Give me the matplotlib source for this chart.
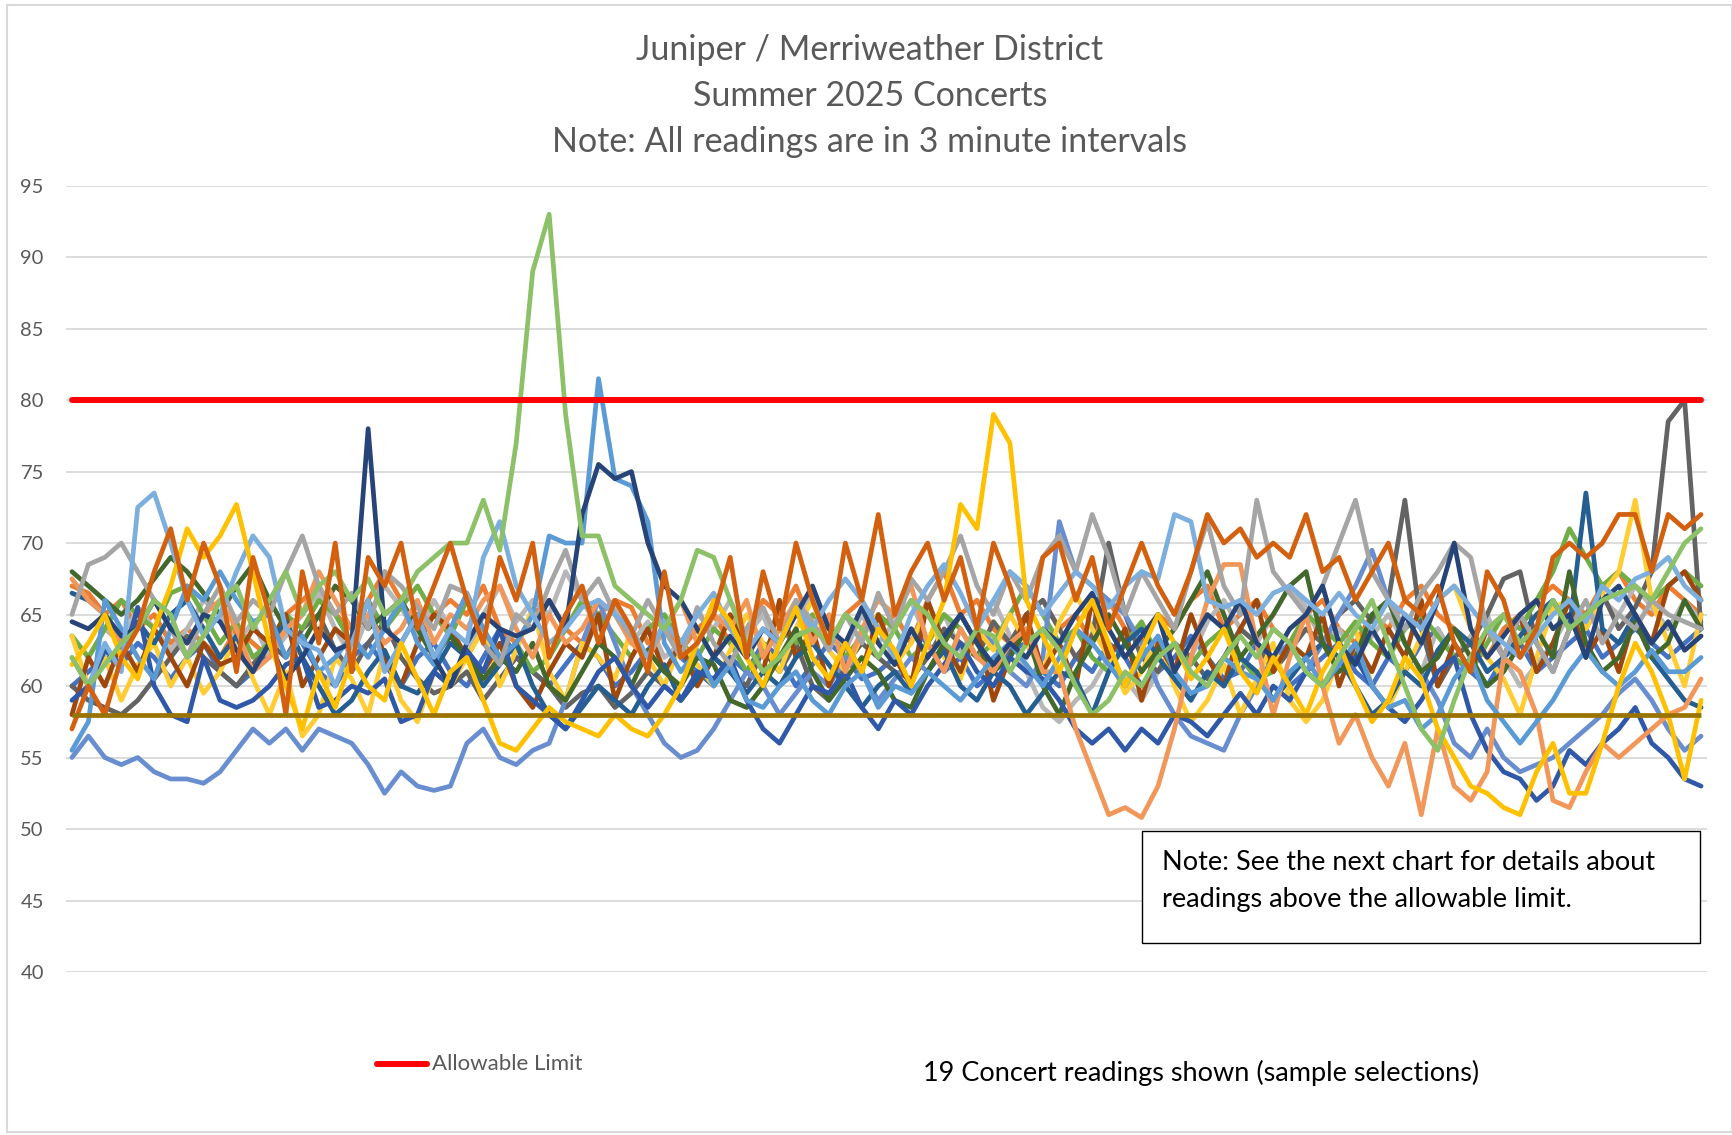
import matplotlib
matplotlib.use("Agg")
import matplotlib.pyplot as plt
from matplotlib.patches import Rectangle
from matplotlib.lines import Line2D

plt.rcParams['font.family'] = ['Lato', 'DejaVu Sans']

title_lines = ["Juniper / Merriweather District", "Summer 2025 Concerts",
               "Note: All readings are in 3 minute intervals"]
y_ticks = [40, 45, 50, 55, 60, 65, 70, 75, 80, 85, 90, 95]
allowable_limit = 80
lower_reference = 58
note_text = "Note: See the next chart for details about\nreadings above the allowable limit."
legend_label = "Allowable Limit"
footer_text = "19 Concert readings shown (sample selections)"

dark_orange = [57, 60, 58, 62, 64, 68, 71, 66, 70, 67, 61, 69, 65, 58, 68, 63, 70, 61, 69, 67,
               70, 64, 67, 70, 66, 63, 69, 66, 70, 62, 65, 67, 63, 66, 64, 61, 68, 62, 63, 65,
               69, 62, 68, 64, 70, 66, 63, 70, 66, 72, 65, 68, 70, 66, 69, 64, 70, 67, 63, 69,
               70, 66, 69, 64, 67, 70, 67, 65, 68, 72, 70, 71, 69, 70, 69, 72, 68, 69, 66, 68,
               70, 66, 65, 67, 63, 61, 68, 66, 62, 64, 69, 70, 69, 70, 72, 72, 68, 72, 71, 72]
salmon = [67.5, 66, 65, 63, 64, 66, 64, 63, 65, 66, 64, 61, 62, 64, 65, 68, 66, 64, 65, 63,
          64, 66, 63, 65, 64, 66, 67, 64, 62, 65, 63, 64, 66, 65, 63, 62, 64, 66, 63, 65,
          64, 66, 62, 64, 66, 63, 65, 61, 64, 66, 65, 67, 63, 61, 64, 62, 61, 63, 64, 61,
          61, 57, 54, 51, 51.5, 50.8, 53, 57, 62, 66, 68.5, 68.5, 63, 58, 62, 65, 60, 56, 58, 55,
          53, 56, 51, 57, 53, 52, 54, 62, 61, 58, 52, 51.5, 54, 56, 55, 56, 57, 58, 58.5, 60.5]
brown = [58, 62, 60, 63, 61, 64, 62, 60, 63, 61.5, 62, 64, 63, 65, 60, 62, 64, 63, 66, 62,
         60, 63, 65, 64, 62, 61, 63, 60, 58.5, 61, 63, 62, 65, 59, 62, 64, 61, 63, 60, 62,
         65, 63, 61, 66, 62, 64, 60, 63, 61, 65, 62, 60, 66, 63, 61, 64, 59, 62, 65, 61,
         63, 60, 66, 62, 64, 59, 63, 61, 65, 62, 60, 64, 66, 61, 63, 62, 65, 60, 63, 61,
         64, 62, 66, 60, 63, 61, 64, 62, 65, 61, 63, 66, 62, 64, 61, 65, 63, 67, 68, 66]
gold = [61.5, 63, 65, 62, 60.5, 64, 67, 71, 69, 70.5, 72.7, 68, 63, 60, 57, 61, 58.5, 62, 60, 59,
        63, 60.5, 58, 61, 62, 59, 56, 55.5, 57, 58.5, 57.5, 57, 56.5, 58, 57, 56.5, 58, 60, 63, 66,
        64.5, 62, 60, 63, 65.5, 62, 60.5, 63, 61, 64, 62.5, 60, 63, 66, 72.7, 71, 79, 77, 66, 63.5,
        61, 64, 66, 63, 60, 62.5, 65, 63, 60.5, 62, 64, 61, 59.5, 62, 60, 58, 61, 63, 60, 57.5,
        59, 62, 60.5, 57, 55, 53, 52.5, 51.5, 51, 54, 56, 52.5, 52.5, 56, 60, 63, 61, 58, 53.5, 59]
light_gold = [63.5, 60, 62, 59, 61.5, 63, 60, 62, 59.5, 61, 63.5, 60.5, 58, 61, 56.5, 58, 62, 60.5, 58, 62.5,
              59, 57.5, 61, 60, 62, 64, 60, 62.5, 65.5, 61, 59, 63, 62, 60.5, 64, 62, 60, 63, 61.5, 60,
              62.5, 65, 63, 61, 64, 66, 62.5, 61, 63.5, 65, 61.5, 63, 65.5, 62, 60.5, 64, 62.5, 65, 63, 61,
              64.5, 66.5, 64, 62, 59.5, 61, 63.5, 60, 57.5, 59, 61.5, 58, 60.5, 63, 59, 57.5, 59, 62, 64, 60,
              58.5, 61, 63.5, 66, 67, 64, 62, 60.5, 58, 62, 65.5, 66, 64, 66.5, 68, 73, 66, 63, 60, 65]
gray = [65, 68.5, 69, 70, 68, 66, 64, 62, 65, 67, 64.5, 66, 65, 68, 70.5, 67, 65, 66.5, 64, 68,
        67, 65.5, 64, 67, 66.5, 63, 61.5, 65, 64, 67, 69.5, 66, 67.5, 65, 63.5, 66, 64, 62, 65.5, 63,
        61.5, 64, 65.5, 63, 66, 64.5, 62.5, 65, 63, 66.5, 64, 67.5, 66, 68, 70.5, 67, 65, 68, 66, 69,
        70.5, 68, 72, 69, 65, 68, 66, 64, 68, 71.5, 67, 65, 73, 68, 66.5, 65, 67, 70, 73, 68,
        66, 64, 66.5, 68, 70, 69, 64, 62, 65, 63, 61, 64, 66, 63, 65, 64, 66, 65, 64.5, 64]
light_gray = [63.5, 62, 64, 63, 65.5, 64, 62.5, 64, 66, 65, 63, 64.5, 62, 63.5, 65, 66.5, 64, 62, 65, 67,
              65.5, 63.5, 66, 64, 62, 65, 67, 64.5, 66, 65, 68, 66, 64, 65.5, 63, 64.5, 62, 63, 65, 64,
              66, 63.5, 65, 62, 64, 66.5, 64, 62.5, 65, 63, 64.5, 66, 63, 65, 62.5, 64, 66, 63.5, 61, 58.5,
              57.5, 59, 60, 62, 60.5, 59, 61, 63, 62, 64.5, 66, 64, 63, 65, 67, 65.5, 63, 64, 62, 63.5,
              65, 63, 61, 64, 62, 63.5, 65, 62, 60, 61.5, 63, 65, 64, 66, 65, 67, 65.5, 64, 66, 64.5]
dark_gray = [60, 59, 58.5, 58, 59, 60.5, 62, 63.5, 62, 61, 60, 61.5, 63, 62, 64, 65, 62.5, 61, 63, 64.5,
             62, 60.5, 59.5, 60, 61, 59, 60.5, 62, 61, 60, 58.5, 59.5, 60, 58.5, 59.5, 61, 60, 59, 60.5, 62,
             61, 60, 62.5, 61, 63, 60, 59, 61.5, 63, 62, 61, 60.5, 62, 64, 63, 62, 64.5, 63, 65, 66,
             64, 62, 63.5, 70, 65, 62, 61, 63, 62, 60.5, 62, 64, 63, 61, 62.5, 64, 63, 65, 66, 64.5,
             66, 73, 64, 60, 62, 63, 65, 67.5, 68, 63, 61, 64, 65, 66.5, 64, 65.5, 68, 78.5, 80, 64]
navy = [64.5, 64, 65, 63.5, 64, 66, 64, 63, 65, 64.5, 62.5, 61, 63, 60.5, 62, 64, 62.5, 63, 78, 64,
        63, 65, 62, 60, 63, 65, 64, 63.5, 64, 66, 64, 72, 75.5, 74.5, 75, 70, 67, 66, 64, 62,
        63.5, 62, 64, 63, 65, 67, 64, 63, 65.5, 63, 61.5, 64, 62, 63.5, 65, 63, 61.5, 63, 62, 64,
        63, 65, 66.5, 64, 62, 63.5, 65, 61, 63, 65, 64, 66, 63, 62, 64, 65, 67, 63, 61.5, 64,
        62, 65, 63, 66, 70, 64, 62, 63.5, 65, 66, 64, 65, 62, 66, 67, 65, 63, 64.5, 62.5, 63.5]
dark_blue = [66.5, 66, 65, 63, 64.5, 63, 65, 66, 64, 62, 63.5, 61, 63, 64.5, 62, 60, 58, 59, 61, 62.5,
             60, 59.5, 61, 63, 62, 60, 61.5, 63, 60, 58, 57, 58.5, 60, 59, 58, 60, 61.5, 59, 60.5, 62,
             61, 59.5, 61, 60, 62, 63, 61.5, 60, 58.5, 60, 61, 59.5, 61, 62.5, 60, 59, 61, 60, 58, 59.5,
             61, 60.5, 58, 61, 63, 64, 62, 60.5, 59, 61, 60, 62, 61, 59, 60.5, 62, 63, 62, 60, 58,
             59, 61, 60, 62.5, 64, 63, 61, 62, 63.5, 65, 66, 64, 73.5, 64, 63, 65, 62, 60.5, 59, 58.5]
blue_strong = [59, 60, 62.5, 61.5, 65.5, 60, 58, 57.5, 62, 59, 58.5, 59, 60, 61.5, 62, 58.5, 59, 60, 59.5, 60.5,
               57.5, 58, 61, 60, 62.5, 61, 64, 60, 59, 58, 57, 59, 61, 62, 60, 58.5, 60, 59, 61, 60.5,
               62, 59, 57, 56, 58, 60, 59.5, 61, 58.5, 57, 59, 58, 60, 61.5, 63, 61, 60, 62, 61, 60.5,
               59, 57, 56, 57, 55.5, 57, 56, 58, 57.5, 56.5, 58, 59.5, 58, 60, 59, 61, 60, 61.5, 62, 60,
               58.5, 57.5, 59, 61, 62, 58, 55.5, 54, 53.5, 52, 53, 55.5, 54.5, 56, 57, 58.5, 56, 55, 53.5, 53]
periwinkle = [55, 56.5, 55, 54.5, 55, 54, 53.5, 53.5, 53.2, 54, 55.5, 57, 56, 57, 55.5, 57, 56.5, 56, 54.5, 52.5,
              54, 53, 52.7, 53, 56, 57, 55, 54.5, 55.5, 56, 59, 63, 66, 63, 60, 58, 56, 55, 55.5, 57,
              59, 61, 60, 58, 59.5, 61, 60, 62, 61, 59, 60.5, 62, 61, 63, 62, 64, 63, 61, 60, 62,
              71.5, 68, 67, 66, 65, 63, 60, 58, 56.5, 56, 55.5, 58, 60, 62, 63, 61, 63, 65, 67, 69.5,
              66, 63, 61, 59, 56, 55, 57, 55, 54, 54.5, 55, 56, 57, 58, 59.5, 60.5, 59, 57, 55.5, 56.5]
light_blue = [55.5, 57.5, 66, 64, 62, 60.5, 64, 67, 66, 68, 66, 64.5, 65, 62, 63.5, 61, 62, 63.5, 62, 64,
              66, 63, 61.5, 64, 66.5, 64, 62, 63, 65, 70.5, 70, 70, 81.5, 74.5, 74, 71.5, 63, 61, 62.5, 60,
              61.5, 59, 58.5, 60, 61, 59, 58, 60, 61, 58.5, 60, 59.5, 61, 60, 59, 60.5, 62, 63, 61.5, 60,
              62, 64, 63, 61.5, 60, 62, 63.5, 61, 59.5, 60, 62, 61, 60.5, 59, 61, 62, 60, 61.5, 63, 60,
              58.5, 59, 57, 58, 60.5, 62, 59, 57.5, 56, 57.5, 59, 61, 62.5, 61, 60, 61, 62.5, 61, 61, 62]
lighter_blue = [62, 60, 63, 61, 72.5, 73.5, 70, 66, 63.5, 65, 68, 70.5, 69, 64, 63, 62.5, 60, 63, 66, 61,
                63, 65, 62, 64, 63, 69, 71.5, 67, 65, 63, 64, 65.5, 66, 65, 64, 62, 64.5, 63, 65, 66.5,
                64, 62.5, 64, 63, 65.5, 64, 66, 67.5, 66, 64, 62, 65, 67, 68.5, 66.5, 64, 66, 68, 67, 65,
                66.5, 68, 67, 65.5, 67, 68, 67.5, 72, 71.5, 66, 65.5, 66, 65, 66.5, 67, 66, 65, 66.5, 65, 64,
                66, 65, 64, 66, 67, 65.5, 64, 63, 62, 63.5, 65, 66, 64.5, 67, 66, 67.5, 68, 69, 67, 66]
green = [63.5, 62, 64, 66, 65, 64, 66.5, 67, 65, 63, 64.5, 62, 63, 65, 64, 66, 65, 63, 66, 64,
         65.5, 67, 65, 63.5, 66, 64, 62, 63, 61, 62, 64, 66, 65, 63.5, 62, 64, 65, 63, 62, 64,
         63, 61, 62.5, 64, 63, 65, 64, 62, 63.5, 65, 64, 62, 63, 65, 64, 62, 63, 65, 67, 65,
         63, 64, 62, 61, 63, 64.5, 62, 63, 61.5, 63, 64, 62, 60.5, 61, 63, 65, 64, 63, 64.5, 63,
         62, 64, 65, 63.5, 62, 61, 63, 65, 64, 66, 68, 71, 69, 67, 68, 67, 66, 67, 68, 67]
light_green = [62, 60, 61.5, 63, 64, 66, 65, 62, 63.5, 66, 67, 64, 66, 68, 65, 67, 68, 66, 67.5, 65,
               66, 68, 69, 70, 70, 73, 69.5, 77, 89, 93, 79, 70.5, 70.5, 67, 66, 65, 64, 66, 69.5, 69,
               66, 63, 61, 62, 63.5, 64, 63, 65, 64, 62, 64, 66, 65, 63, 62, 64, 63.5, 61, 63, 64,
               62.5, 60, 58, 59, 61, 60, 62, 63, 61, 60, 62, 63.5, 62, 64, 63, 61, 60, 62, 64, 66,
               63, 60, 57, 55.5, 59, 62, 64, 65, 63, 64, 66, 64, 65, 66, 66.5, 67, 66, 68, 70, 71]
dark_green = [68, 67, 66, 65, 66, 67.5, 69, 68, 66.5, 65, 67, 68.5, 66, 64, 63, 65, 67, 66, 64, 65,
              66, 64, 62, 63.5, 62, 60.5, 62, 61, 63, 60, 59, 61, 63, 62, 60, 62.5, 61, 60, 62, 61.5,
              59, 58.5, 60, 62, 64, 61, 59, 60.5, 62, 61, 59, 58.5, 61, 63, 65, 63, 61, 62, 64, 60,
              58, 61, 63, 65, 63, 61, 62.5, 64, 66, 68, 65, 62, 63.5, 65, 67, 68, 63, 61, 62, 65,
              66, 63, 61, 62, 64, 62, 60, 61, 63, 64, 62, 68, 63, 61, 62, 64.5, 62, 63, 66, 64]
orange = [67, 66.5, 65, 66, 64, 65, 63, 64, 63, 62, 64, 63, 62, 65, 66, 67, 65, 64, 66, 68,
          66, 64, 65, 66, 65, 67, 64, 63, 65, 66, 64, 63, 65, 66, 65.5, 63, 64, 62.5, 64, 65,
          63, 64, 66, 65, 67, 64, 63, 65, 66, 64, 65, 63, 66, 68, 65, 66, 64, 63, 65, 66,
          64, 65, 63, 66, 64, 63, 65, 64, 66, 67, 64, 65, 66, 64, 63, 65, 66, 64, 63, 65,
          64, 66, 67, 65, 64, 63, 62, 64, 65, 66, 67, 66, 65, 67, 68, 66, 65, 67, 66, 65]
blue_mid = [60, 61, 62, 61.5, 63, 62, 60.5, 62, 63, 61, 60, 61, 62.5, 64, 63, 61, 60, 62, 63, 61.5,
            60, 62, 63, 61, 60, 62, 64, 62, 61, 60, 61.5, 63, 62, 60, 61, 62.5, 64, 62, 61, 60,
            62, 61, 63, 62, 60, 61.5, 63, 62, 60.5, 61, 62, 64, 63, 61, 62, 60, 61, 62.5, 63, 61,
            60, 62, 61, 63, 62, 60, 61, 62, 63.5, 62, 60.5, 61, 63, 62, 60, 61, 62, 63, 61, 60,
            62, 61, 63, 64, 62, 61, 60, 62, 63, 61, 62, 63, 64, 62, 63, 64, 63, 62, 63, 64]

# drawing order (first drawn = bottom)
series = [
    (blue_mid, "#4472C4"), (orange, "#ED7D31"), (light_gray, "#B7B7B7"), (dark_gray, "#636363"),
    (green, "#70AD47"), (periwinkle, "#698ED0"), (light_gold, "#FFCD33"), (brown, "#9E480E"),
    (dark_blue, "#255E91"), (dark_green, "#43682B"), (blue_strong, "#2F59A8"), (salmon, "#F1975A"),
    (light_blue, "#5B9BD5"), (gray, "#A5A5A5"), (navy, "#264478"), (lighter_blue, "#7CAFDD"),
    (gold, "#FFC000"), (light_green, "#8CC168"), (dark_orange, "#D2600F"),
]

W, H = 1732, 1135
fig = plt.figure(figsize=(W / 100, H / 100), dpi=100)
fig.patch.set_facecolor("white")

ax = fig.add_axes([66 / W, 1 - 972 / H, 1641 / W, (972 - 185.6) / H])
n = len(dark_orange)
xs = list(range(n))
for vals, col in series:
    ax.plot(xs, vals, color=col, lw=3.4, solid_joinstyle="round", solid_capstyle="round", zorder=3)
ax.plot([0, n - 1], [lower_reference, lower_reference], color="#997300", lw=3.4, zorder=4,
        solid_capstyle="butt")
ax.plot([0, n - 1], [allowable_limit, allowable_limit], color="#FF0000", lw=4.3, zorder=5,
        solid_capstyle="round")

ax.set_xlim(-0.36, n - 1 + 0.36)
ax.set_ylim(40, 95)
ax.set_yticks(y_ticks)
ax.set_xticks([])
ax.grid(axis="y", color="#D9D9D9", lw=1.3, zorder=0)
ax.set_axisbelow(True)
for s in ax.spines.values():
    s.set_visible(False)
ax.tick_params(axis="y", length=0, pad=16, labelsize=14.5, labelcolor="#595959")

# chart border
fig.add_artist(Rectangle((7 / W, 3 / H), (W - 7) / W, (H - 8) / H, transform=fig.transFigure,
                         fill=False, edgecolor="#D9D9D9", lw=1.5))

for txt, yc in zip(title_lines, [50.5, 96, 142]):
    fig.text(870 / W, 1 - yc / H, txt, ha="center", va="center", fontsize=24.5, color="#595959")

# note box
fig.add_artist(Rectangle((1142 / W, 1 - 943 / H), (1700 - 1142) / W, (943 - 831) / H,
                         transform=fig.transFigure, fill=True, facecolor="white",
                         edgecolor="black", lw=1.0, zorder=10))
fig.text(1162 / W, 1 - 881 / H, note_text, ha="left", va="center", fontsize=19.5, color="black",
         linespacing=1.6, zorder=11)

# legend
fig.add_artist(Line2D([377 / W, 427 / W], [1 - 1064 / H, 1 - 1064 / H], transform=fig.transFigure,
                      color="#FF0000", lw=4.3, solid_capstyle="round"))
fig.text(432 / W, 1 - 1064 / H, legend_label, ha="left", va="center", fontsize=16, color="#595959")
fig.text(1201 / W, 1 - 1073 / H, footer_text, ha="center", va="center", fontsize=19.5, color="black")

fig.savefig("out.png", dpi=100, facecolor="white")
